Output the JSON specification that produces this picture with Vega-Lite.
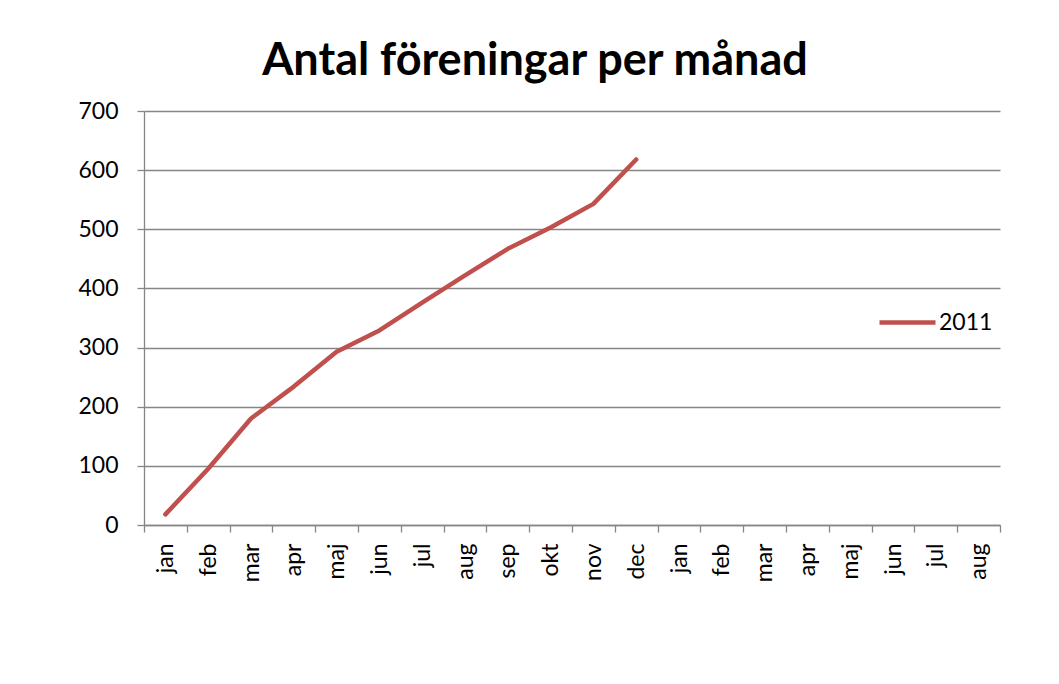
{
  "$schema": "https://vega.github.io/schema/vega-lite/v6.json",
  "width": 856,
  "height": 414,
  "autosize": {"type": "none"},
  "padding": {"left": 144, "top": 111, "right": 59, "bottom": 159},
  "background": "white",
  "title": {
    "text": "Antal föreningar per månad",
    "font": "Lato",
    "fontSize": 45,
    "fontWeight": "bold",
    "color": "black",
    "anchor": "middle",
    "frame": "group",
    "dx": -37,
    "offset": 16
  },
  "data": {
    "values": [
      {"month": "jan 2011", "count": 18, "series": "2011"},
      {"month": "feb 2011", "count": 95, "series": "2011"},
      {"month": "mar 2011", "count": 180, "series": "2011"},
      {"month": "apr 2011", "count": 234, "series": "2011"},
      {"month": "maj 2011", "count": 293, "series": "2011"},
      {"month": "jun 2011", "count": 329, "series": "2011"},
      {"month": "jul 2011", "count": 376, "series": "2011"},
      {"month": "aug 2011", "count": 422, "series": "2011"},
      {"month": "sep 2011", "count": 467, "series": "2011"},
      {"month": "okt 2011", "count": 503, "series": "2011"},
      {"month": "nov 2011", "count": 543, "series": "2011"},
      {"month": "dec 2011", "count": 618, "series": "2011"}
    ]
  },
  "mark": {"type": "line", "strokeWidth": 4.5, "strokeCap": "round", "strokeJoin": "round"},
  "encoding": {
    "x": {
      "field": "month",
      "type": "ordinal",
      "sort": null,
      "bandPosition": 0.5,
      "scale": {
        "type": "band",
        "paddingInner": 0,
        "paddingOuter": 0,
        "domain": ["jan 2011", "feb 2011", "mar 2011", "apr 2011", "maj 2011", "jun 2011", "jul 2011", "aug 2011", "sep 2011", "okt 2011", "nov 2011", "dec 2011", "jan 2012", "feb 2012", "mar 2012", "apr 2012", "maj 2012", "jun 2012", "jul 2012", "aug 2012"]
      },
      "axis": {
        "title": null,
        "labelExpr": "isString(datum.value) ? split(datum.value, ' ')[0] : ''",
        "labelAngle": -90,
        "labelFont": "Lato",
        "labelFontSize": 23,
        "labelColor": "black",
        "labelPadding": 11,
        "tickBand": "extent",
        "tickSize": 7,
        "tickColor": "#868686",
        "tickWidth": 1.3,
        "domainColor": "#868686",
        "domainWidth": 1.3,
        "grid": false
      }
    },
    "y": {
      "field": "count",
      "type": "quantitative",
      "scale": {"domain": [0, 700], "nice": false},
      "axis": {
        "title": null,
        "values": [0, 100, 200, 300, 400, 500, 600, 700],
        "labelFont": "Lato",
        "labelFontSize": 23,
        "labelColor": "black",
        "labelPadding": 19,
        "tickSize": 7,
        "tickColor": "#868686",
        "tickWidth": 1.3,
        "domainColor": "#868686",
        "domainWidth": 1.3,
        "grid": true,
        "gridColor": "#868686",
        "gridWidth": 1.3
      }
    },
    "color": {
      "field": "series",
      "type": "nominal",
      "scale": {"range": ["#C0504D"]},
      "legend": {
        "title": null,
        "orient": "none",
        "legendX": 733,
        "legendY": 181,
        "padding": 0,
        "symbolType": "stroke",
        "symbolSize": 3136,
        "symbolStrokeWidth": 4.5,
        "labelFont": "Lato",
        "labelFontSize": 23,
        "labelColor": "black",
        "labelOffset": 1
      }
    }
  },
  "config": {
    "view": {"stroke": null}
  }
}
